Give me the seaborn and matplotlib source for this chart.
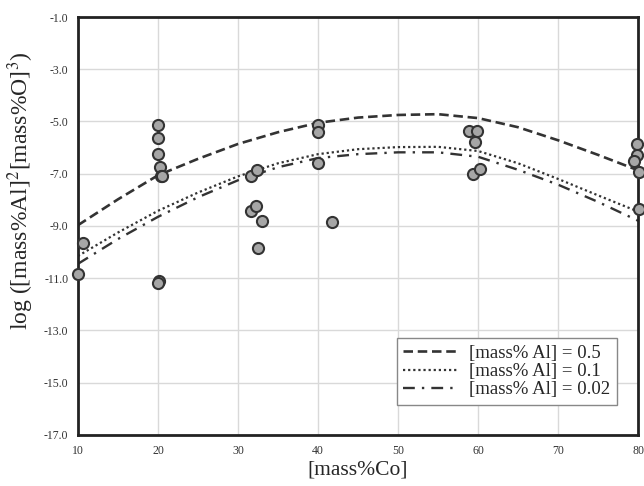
import matplotlib
matplotlib.use("Agg")
import matplotlib.pyplot as plt
import seaborn as sns

# measured points
co_meas = [10.0, 10.6, 20.0, 20.0, 20.0, 20.2, 20.4, 20.5, 20.1, 20.0,
           31.6, 32.4, 31.6, 32.3, 33.0, 32.5,
           40.0, 40.0, 40.0, 41.7,
           58.8, 59.9, 59.6, 59.3, 60.2,
           79.9, 79.8, 79.5, 80.1, 80.05]
logk_meas = [-10.82, -9.66, -5.14, -5.62, -6.26, -6.73, -7.08, -7.1, -11.1, -11.2,
             -7.08, -6.84, -8.42, -8.24, -8.82, -9.85,
             -5.14, -5.39, -6.6, -8.84,
             -5.37, -5.37, -5.78, -7.02, -6.8,
             -5.87, -6.29, -6.5, -6.95, -8.36]

# calculated curves
co_calc = [10, 15, 20, 25, 30, 35, 40, 45, 50, 55, 60, 65, 70, 75, 80]
al_05 = [-8.97, -7.98, -7.06, -6.43, -5.86, -5.41, -5.05, -4.85, -4.75, -4.72,
         -4.87, -5.22, -5.72, -6.28, -6.87]
al_01 = [-10.15, -9.25, -8.42, -7.72, -7.1, -6.6, -6.25, -6.06, -5.98, -5.97,
         -6.13, -6.6, -7.2, -7.83, -8.45]
al_002 = [-10.45, -9.5, -8.65, -7.9, -7.25, -6.75, -6.4, -6.25, -6.18, -6.18,
          -6.35, -6.85, -7.42, -8.08, -8.8]
y_ticks = [-17, -15, -13, -11, -9, -7, -5, -3, -1]

sns.set_theme(style="whitegrid")
plt.rcParams['font.family'] = ['Liberation Serif', 'DejaVu Serif']
plt.rcParams['mathtext.fontset'] = 'stix'

fig = plt.figure(figsize=(6.44, 4.86), dpi=100)
ax = fig.add_axes([0.121, 0.105, 0.870, 0.860])

ink = '#333333'
sns.lineplot(x=co_calc, y=al_05, ax=ax, color=ink, lw=1.9,
             linestyle=(0, (3.6, 1.8)), label='[mass% Al] = 0.5')
sns.lineplot(x=co_calc, y=al_01, ax=ax, color=ink, lw=1.6,
             linestyle=(0, (1, 1.3)), label='[mass% Al] = 0.1')
sns.lineplot(x=co_calc, y=al_002, ax=ax, color=ink, lw=1.7,
             linestyle=(0, (5, 3, 1, 3)), label='[mass% Al] = 0.02')
sns.scatterplot(x=co_meas, y=logk_meas, ax=ax, s=64, color='#a6a6a6',
                edgecolor=ink, linewidth=1.5, zorder=5, clip_on=False)

ax.set_xlim(10, 80)
ax.set_ylim(-17, -1)
ax.set_xticks(range(10, 81, 10))
ax.set_yticks(y_ticks)
ax.set_yticklabels([f'{v:.1f}' for v in y_ticks])
ax.tick_params(labelsize=8.5, colors='#333333', pad=7, length=0)
ax.grid(color='#d9d9d9', lw=1)
for sp in ax.spines.values():
    sp.set_color('#222222')
    sp.set_linewidth(2)

ax.set_xlabel('[mass%Co]', fontsize=15.5, labelpad=3)
ax.set_ylabel('log ([mass%Al]$^2$[mass%O]$^3$)', fontsize=17)
ax.yaxis.set_label_coords(-0.074, 0.585)

leg = ax.legend(loc='lower right', bbox_to_anchor=(0.978, 0.05), fontsize=13.5,
                frameon=True, fancybox=False, handlelength=3.0,
                borderpad=0.35, labelspacing=0.05, handletextpad=0.5)
leg.get_frame().set_edgecolor('#888888')
leg.get_frame().set_linewidth(1)
leg.get_frame().set_alpha(1)

fig.savefig('out.png', dpi=100)
